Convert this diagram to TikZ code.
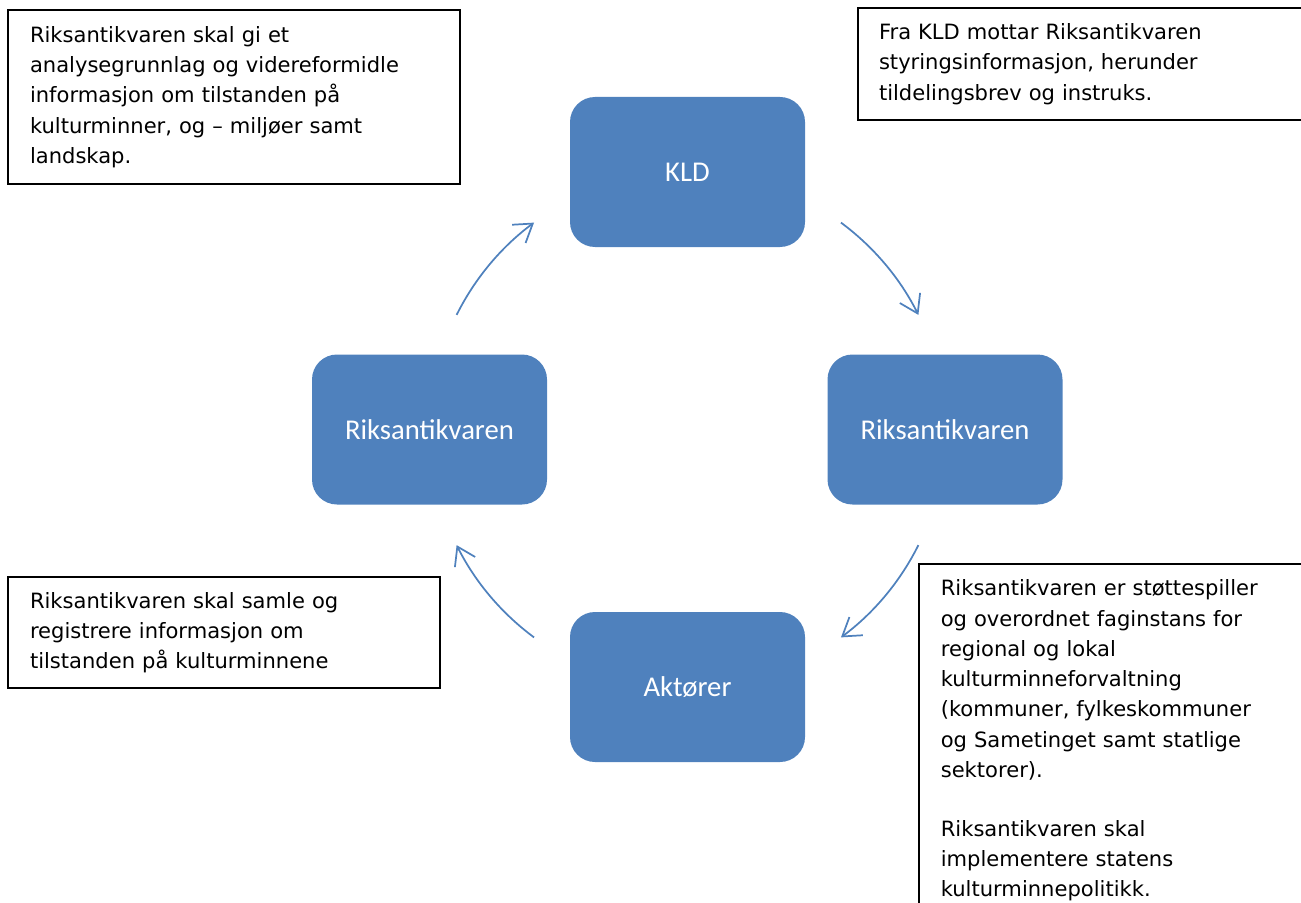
\documentclass[tikz,border=0pt]{standalone}
\usepackage{fontspec}
\setmainfont{DejaVu Sans}
\newfontfamily\calibri{Carlito}
\usetikzlibrary{arrows.meta}
\definecolor{accblue}{HTML}{4F81BD}

\begin{document}
\begin{tikzpicture}[x=0.75pt,y=-0.75pt,
	stage/.style={fill=accblue,rounded corners=18.75pt,minimum width=176.25pt,minimum height=112.5pt,text=white,font=\calibri\fontsize{21.5}{26}\selectfont},
	infobox/.style={draw=black,line width=1.2pt,align=left,inner xsep=16.5pt,font=\fontsize{15.8}{22.7}\selectfont},
	cyclearrow/.style={draw=accblue,line width=1.3pt,-{Straight Barb[length=13pt,width=17pt,line width=1.3pt]}}]
	\clip (0,0) rectangle (1301,902);
	% the four stages
	\node[stage] (kld) at (687.5,172) {KLD};
	\node[stage] (riksR) at (945,429.5) {Riksantikvaren};
	\node[stage] (akt) at (687.5,687) {Aktører};
	\node[stage] (riksL) at (429.5,429.5) {Riksantikvaren};
	% arrows round the cycle
	\coordinate (hub) at (687.5,430);
	\foreach \a in {-153.5,-53.5,26.5,126.5}
		\draw[cyclearrow] ([shift={(\a:258)}]hub) arc[start angle=\a,end angle=\a+27,radius=258];
	% notes
	\node[infobox,minimum width=339pt,minimum height=130.5pt,text width=306pt] (noteTL) at (234,97) {Riksantikvaren skal gi et\\analysegrunnlag og videreformidle\\informasjon om tilstanden på\\kulturminner, og – miljøer samt\\landskap.};
	\node[infobox,minimum width=339pt,minimum height=84pt,text width=307.5pt,inner xsep=15.75pt] (noteTR) at (1084,64) {Fra KLD mottar Riksantikvaren\\styringsinformasjon, herunder\\tildelingsbrev og instruks.};
	\node[infobox,minimum width=324pt,minimum height=83.25pt,text width=291pt] (noteBL) at (224,632.5) {Riksantikvaren skal samle og\\registrere informasjon om\\tilstanden på kulturminnene};
	\node[infobox,anchor=north west,text width=261pt,inner ysep=12pt] (noteBR) at (918,563) {Riksantikvaren er støttespiller\\og overordnet faginstans for\\regional og lokal\\kulturminneforvaltning\\(kommuner, fylkeskommuner\\og Sametinget samt statlige\\sektorer).\\[21.5pt]Riksantikvaren skal\\implementere statens\\kulturminnepolitikk.};
\end{tikzpicture}
\end{document}
